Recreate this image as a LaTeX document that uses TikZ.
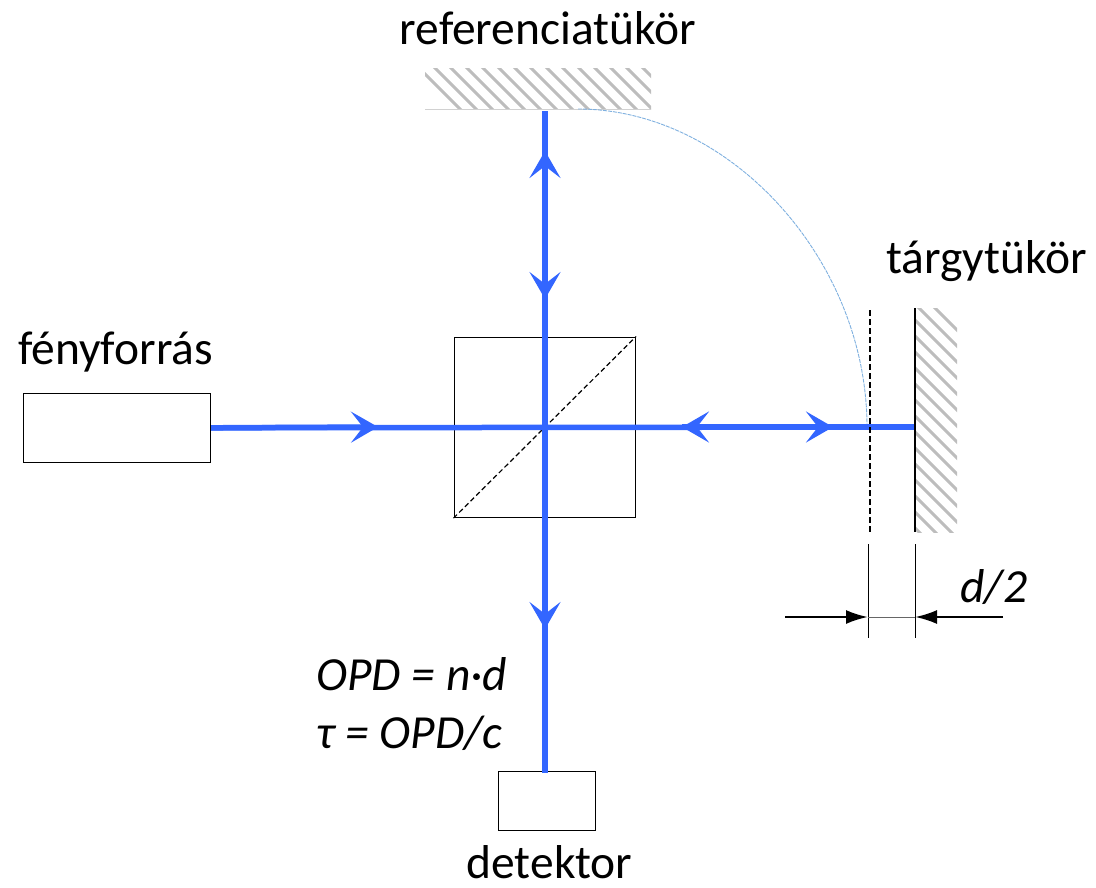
\documentclass[tikz,border=0pt]{standalone}
\usepackage{fontspec}
\setmainfont{Carlito}
\usetikzlibrary{arrows.meta}
\definecolor{beamblue}{HTML}{3366FF}
\definecolor{hatchgray}{HTML}{BDBDBD}
\definecolor{curveblue}{HTML}{7FB0DF}
\tikzset{
  box/.style={draw=black,line width=1.6pt,fill=white,inner sep=0pt,minimum width=#1},
  beam/.style={draw=beamblue,line width=5.5pt},
  headbeam/.style={beam,-{Stealth[length=27pt,width=31pt,inset=12pt,fill=beamblue]}},
  lbl/.style={inner sep=0pt,font=\fontsize{47.5}{47.5}\selectfont,text=black},
  dimline/.style={draw=black,line width=0.9pt},
  dimarrow/.style={draw=black,line width=2.4pt,-{Latex[length=22pt,width=14pt]}},
  hatching/.style={draw=hatchgray,line width=2.9pt}
}
\begin{document}
\begin{tikzpicture}[x=1pt,y=-1pt]
\useasboundingbox (0,0) rectangle (1096,887);
% mirrors
\begin{scope}
\clip (425,68) rectangle (651,109);
\foreach \s in {-16,0,...,300}{\draw[hatching] (427+\s,60) -- ++(60,60);}
\end{scope}
\draw[draw=hatchgray!70,line width=0.8pt] (425,109) -- (651,109);
\begin{scope}
\clip (915,308) rectangle (957,532);
\foreach \s in {-16,0,...,272}{\draw[hatching] (900,\s+289) -- ++(70,70);}
\end{scope}
% coordinates
\coordinate (refspot) at (545,111);
\coordinate (cubecentre) at (545,427);
\coordinate (objspot) at (915,427);
\coordinate (detspot) at (545,773);
\coordinate (h1) at (378,427);
\coordinate (h2) at (682,427);
\coordinate (h3) at (833,427);
\coordinate (v1) at (545,151);
\coordinate (v2) at (545,299);
\coordinate (v3) at (545,629);
\coordinate (objtop) at (915,308);
\coordinate (objbot) at (915,532);
\coordinate (dashtop) at (870,310);
\coordinate (dashbot) at (870,532);
\coordinate (dimAtop) at (868,544);
\coordinate (dimAbot) at (868,638);
\coordinate (dimBtop) at (915,544);
\coordinate (dimBbot) at (915,638);
\coordinate (dimAmid) at (868,617);
\coordinate (dimBmid) at (915,617);
\coordinate (dimLstart) at (785,617);
\coordinate (dimRstart) at (1003,617);
\coordinate (curveA) at (578,109);
\coordinate (curveB) at (867,427);
% boxes
\node[box=187pt,minimum height=69pt,anchor=north west] (source) at (22.5,392.5) {};
\node[box=181pt,minimum height=180pt,anchor=north west] (cube) at (453.5,336.5) {};
\node[box=97pt,minimum height=59pt,anchor=north west] (detector) at (497.5,770.5) {};
\draw[black,line width=1.2pt,dash pattern=on 5pt off 3pt] (cube.south west) -- (cube.north east);
% thin curve
\draw[curveblue,line width=0.9pt,dash pattern=on 4pt off 1pt] (curveA) .. controls (730,109) and (867,260) .. (curveB);
% beams
\draw[beam] (source.east) -- (objspot);
\draw[beam] (refspot) -- (detspot);
\draw[headbeam] (source.east) -- (h1);
\draw[headbeam] (objspot) -- (h2);
\draw[headbeam] (h2) -- (h3);
\draw[headbeam] (cubecentre) -- (v1);
\draw[headbeam] (v1) -- (v2);
\draw[headbeam] (cubecentre) -- (v3);
% object plane
\draw[black,line width=1.6pt] (objtop) -- (objbot);
\draw[black,line width=1.2pt,dash pattern=on 6pt off 3pt] (dashtop) -- (dashbot);
% dimension
\draw[dimline] (dimAtop) -- (dimAbot);
\draw[dimline] (dimBtop) -- (dimBbot);
\draw[draw=black!60,line width=0.9pt] (dimAmid) -- (dimBmid);
\draw[dimarrow] (dimLstart) -- (dimAmid);
\draw[dimarrow] (dimRstart) -- (dimBmid);
% labels
\node[lbl,anchor=base] (tref) at (548,44) {referenciatükör};
\node[lbl,anchor=base] (tobj) at (986.5,273) {tárgytükör};
\node[lbl,anchor=base] (tsrc) at (115.5,364) {fényforrás};
\node[lbl,anchor=base] (tdet) at (549.5,878) {detektor};
\node[lbl,anchor=base west] (td) at (960,602) {\itshape d/2};
\node[lbl,anchor=base west] (topd) at (316,690) {\itshape OPD = n·d};
\node[lbl,anchor=base west] (ttau) at (316,748) {\itshape τ = OPD/c};
\end{tikzpicture}
\end{document}
